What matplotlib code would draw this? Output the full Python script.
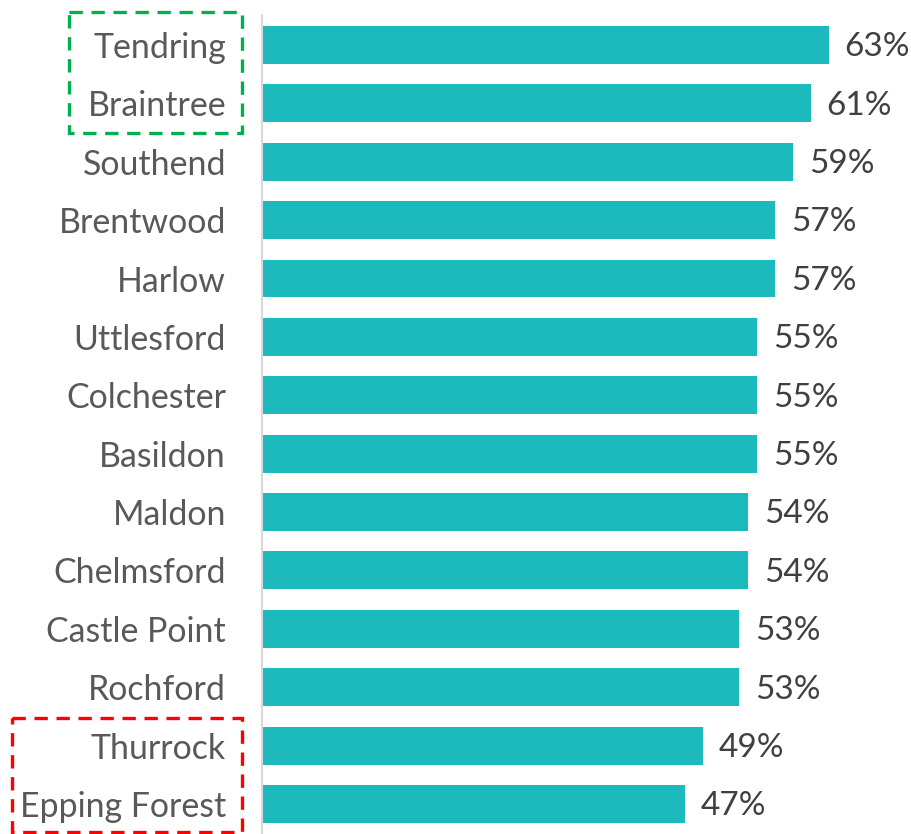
import matplotlib.pyplot as plt
from matplotlib.patches import Rectangle
from matplotlib.transforms import blended_transform_factory

# share of respondents by district
districts = ["Tendring", "Braintree", "Southend", "Brentwood", "Harlow", "Uttlesford",
             "Colchester", "Basildon", "Maldon", "Chelmsford", "Castle Point", "Rochford",
             "Thurrock", "Epping Forest"]
values = [63, 61, 59, 57, 57, 55, 55, 55, 54, 54, 53, 53, 49, 47]

plt.rcParams['font.family'] = ['Lato', 'DejaVu Sans']

fig = plt.figure(figsize=(9.12, 8.34), dpi=100)
ax = fig.add_axes([262 / 912, 0, 650 / 912, 1])

pos = list(range(len(districts)))
ax.barh(pos, values, height=0.65, color="#1CBABD")
for p, v in zip(pos, values):
    ax.text(v + 1.75, p + 0.04, f"{v}%", va="center", ha="left", fontsize=24, color="#404040")

ax.set_xlim(0, 650 / 9)
ax.set_ylim(13.515, -0.771)
ax.set_yticks(pos)
ax.set_yticklabels(districts, fontsize=24.4, color="#595959")
ax.tick_params(axis="y", length=0, pad=36 / 1.39)
ax.set_xticks([])
for s in ["top", "right", "bottom"]:
    ax.spines[s].set_visible(False)
ax.spines["left"].set_color("#D9D9D9")
ax.spines["left"].set_linewidth(1.5)
ax.spines["left"].set_bounds(-0.514, 13.515)

# dashed boxes highlighting top two and bottom two
tr = blended_transform_factory(fig.transFigure, ax.transData)
ax.add_patch(Rectangle((69 / 912, -0.565), 173 / 912, 2.07, transform=tr, fill=False,
                       edgecolor="#00B050", linewidth=2.4, linestyle=(0, (4, 2.6)), clip_on=False))
ax.add_patch(Rectangle((12 / 912, 11.53), 230 / 912, 1.95, transform=tr, fill=False,
                       edgecolor="#FF0000", linewidth=2.4, linestyle=(0, (4, 2.6)), clip_on=False))

fig.savefig("out.png", dpi=100)
